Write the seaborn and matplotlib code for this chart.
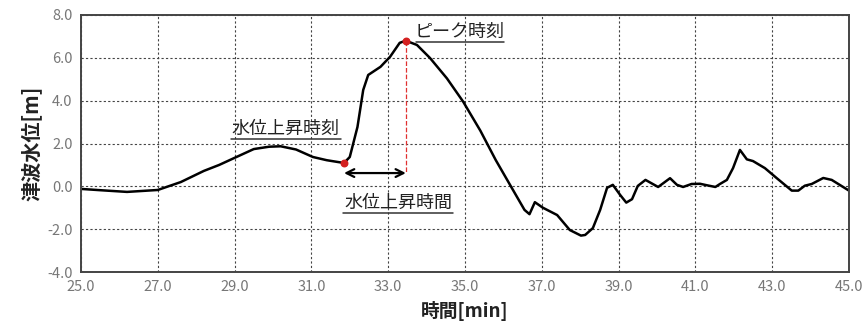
import numpy as np
import pandas as pd
import seaborn as sns
from matplotlib import pyplot as plt

# tsunami water level
time_min = [25.0, 25.5, 26.2, 27.0, 27.6, 28.2, 28.6, 29.0, 29.5, 29.9, 30.2, 30.6, 31.04, 31.4,
            31.85, 32.0, 32.2, 32.35, 32.48, 32.8, 33.05, 33.3, 33.46, 33.75, 34.09, 34.53,
            34.95, 35.4, 35.8, 36.25, 36.55, 36.68, 36.82, 37.03, 37.4, 37.73, 38.02, 38.13,
            38.33, 38.52, 38.7, 38.85, 39.04, 39.2, 39.35, 39.5, 39.7, 40.03, 40.34, 40.52,
            40.68, 40.9, 41.12, 41.3, 41.52, 41.64, 41.82, 41.98, 42.16, 42.34, 42.5, 42.81,
            43.12, 43.51, 43.68, 43.85, 44.03, 44.33, 44.55, 45.0]
level_m = [-0.12, -0.18, -0.26, -0.17, 0.2, 0.72, 1.0, 1.33, 1.74, 1.85, 1.87, 1.72, 1.37, 1.22,
           1.09, 1.37, 2.77, 4.5, 5.2, 5.58, 6.05, 6.7, 6.8, 6.6, 5.99, 5.04,
           3.96, 2.6, 1.23, -0.17, -1.1, -1.3, -0.74, -1.0, -1.34, -2.04, -2.3, -2.27,
           -1.95, -1.1, -0.07, 0.07, -0.4, -0.76, -0.6, 0.02, 0.3, -0.03, 0.38, 0.07,
           -0.03, 0.11, 0.12, 0.05, -0.03, 0.11, 0.3, 0.85, 1.7, 1.26, 1.18, 0.85,
           0.38, -0.2, -0.2, 0.03, 0.11, 0.39, 0.3, -0.2]
rise_t, rise_v = 31.85, 1.09
peak_t, peak_v = 33.46, 6.8
arrow_v = 0.62

df = pd.DataFrame({"t": time_min, "h": level_m})

sns.set_style("white")
plt.rcParams['font.family'] = ['Noto Sans CJK JP', 'DejaVu Sans']

fig = plt.figure(figsize=(8.65, 3.28), dpi=100)
ax = fig.add_axes([0.0936, 0.1707, 0.8879, 0.7836])

sns.lineplot(data=df, x="t", y="h", ax=ax, color="black", linewidth=1.8)

# red markers + dashed drop line
ax.scatter([rise_t, peak_t], [rise_v, peak_v], color="#d42020", s=22, zorder=5)
ax.plot([peak_t, peak_t], [peak_v, arrow_v], color="#e03030", linestyle="--", linewidth=0.9)
ax.annotate("", xy=(rise_t, arrow_v), xytext=(peak_t, arrow_v),
            arrowprops=dict(arrowstyle="<->", color="black", lw=1.6, mutation_scale=14,
                            shrinkA=0, shrinkB=0))

# labels with underline
def label(x0, x1, u, text):
    ax.text((x0 + x1) / 2, u + 0.22, text, ha="center", va="baseline", fontsize=13,
            color="#222222")
    ax.plot([x0, x1], [u, u], color="#333333", linewidth=1.1)

label(33.72, 36.02, 6.74, "ピーク時刻")
label(28.9, 31.77, 2.21, "水位上昇時刻")
label(31.82, 34.69, -1.24, "水位上昇時間")

ax.set_xlim(25, 45)
ax.set_ylim(-4, 8)
ax.set_xticks(np.arange(25, 45.1, 2))
ax.set_yticks(np.arange(-4, 8.1, 2))
ax.set_xticklabels([f"{v:.1f}" for v in np.arange(25, 45.1, 2)])
ax.set_yticklabels([f"{v:.1f}" for v in np.arange(-4, 8.1, 2)])
ax.tick_params(axis="both", length=0, labelsize=10.5, labelcolor="#777777", pad=6)
ax.grid(True, color="#444444", linestyle=(0, (2, 2)), linewidth=0.8)
for s in ax.spines.values():
    s.set_color("#444444")
    s.set_linewidth(1.4)

ax.set_xlabel("時間[min]", fontsize=13.5, fontweight="bold", color="#222222", labelpad=5)
ax.set_ylabel("津波水位[m]", fontsize=14.5, fontweight="bold", color="#222222", labelpad=3)

fig.savefig("out.png", dpi=100)
